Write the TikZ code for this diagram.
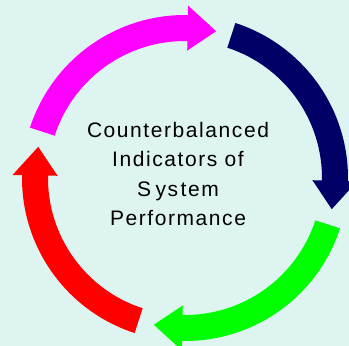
\documentclass[tikz,border=0pt]{standalone}
\usepackage{fontspec}
\setmainfont{Liberation Sans}
\definecolor{bgcyan}{RGB}{222,244,240}
\definecolor{navyarr}{RGB}{0,0,102}
\definecolor{magarr}{RGB}{255,0,255}
\definecolor{greenarr}{RGB}{0,255,0}
\definecolor{redarr}{RGB}{255,0,0}
\tikzset{
  ringarrow/.style={fill=#1},
  titletext/.style={anchor=base, align=center, text=black,
    font=\fontsize{21}{29.5}\selectfont\addfontfeature{LetterSpace=7.5}}
}
\begin{document}
\begin{tikzpicture}[x=1pt,y=1pt]
\useasboundingbox (0,0) rectangle (349,346);
\clip (0,0) rectangle (349,346);
\fill[bgcyan] (0,0) rectangle (349,346);
\begin{scope}[shift={(185,168)}]
\foreach \col/\a/\b in {magarr/162/78, navyarr/72/-12, greenarr/-18/-102, redarr/252/168}{
  \pgfmathsetmacro\h{\b+11}
  \fill[ringarrow=\col] (\a:163) arc[start angle=\a, end angle=\h, radius=163]
    -- (\h:172.5) -- (\b:150) -- (\h:127.5) -- (\h:137)
    arc[start angle=\h, end angle=\a, radius=137] -- cycle;
}
\end{scope}
\node[titletext] (title) at (178,120.5)
  {Counterbalanced\\Indicators of\\S\kern-3pt\ ys\kern-5pt\ tem\\Performance};
\end{tikzpicture}
\end{document}
